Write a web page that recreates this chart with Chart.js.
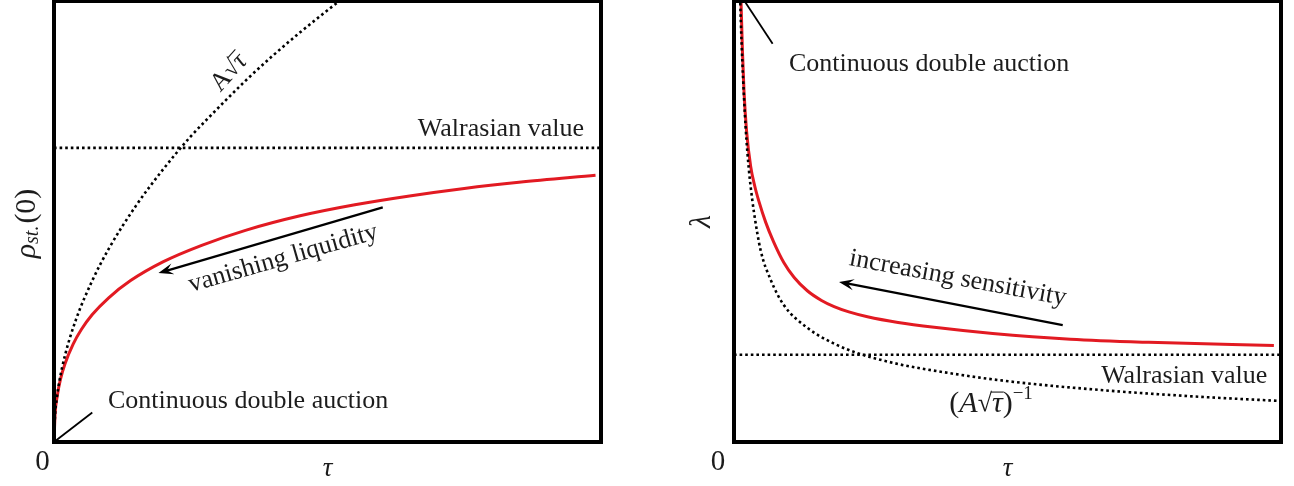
<!DOCTYPE html>
<html><head><meta charset="utf-8">
<script src="https://cdn.jsdelivr.net/npm/chart.js@4.4.1/dist/chart.umd.min.js"></script>
<style>
html,body{margin:0;padding:0;background:#fff;width:1294px;height:486px;overflow:hidden}
.panel{position:absolute;top:0;width:647px;height:486px}
</style></head><body>
<div class="panel" style="left:0"><canvas id="c1" width="647" height="486"></canvas></div>
<div class="panel" style="left:647px"><canvas id="c2" width="647" height="486"></canvas></div>
<script>
// ---------- data ----------
// Left panel: rho_st.(0) vs tau
const leftTauRed  = [0, 0.002, 0.006, 0.012, 0.02, 0.035, 0.05, 0.07, 0.1, 0.14, 0.2, 0.27, 0.35, 0.45, 0.55, 0.65, 0.75, 0.85, 0.99];
const leftRhoRed  = [0, 0.063, 0.105, 0.143, 0.177, 0.222, 0.255, 0.289, 0.327, 0.366, 0.409, 0.446, 0.48, 0.513, 0.538, 0.558, 0.575, 0.589, 0.605];
const leftTauSqrt = [0, 0.002, 0.005, 0.01, 0.02, 0.04, 0.07, 0.1, 0.15, 0.2, 0.25, 0.28, 0.35, 0.4, 0.45, 0.5, 0.53];
const leftRhoSqrt = [0, 0.062, 0.098, 0.139, 0.196, 0.277, 0.366, 0.438, 0.536, 0.619, 0.693, 0.732, 0.819, 0.876, 0.929, 0.979, 1.008];
const leftWalrasian = 0.667;

// Right panel: lambda vs tau
const rightTauRed    = [0.0105, 0.0128, 0.0155, 0.0183, 0.023, 0.0305, 0.038, 0.0457, 0.058, 0.072, 0.091, 0.11, 0.134, 0.16, 0.183, 0.21, 0.244, 0.3, 0.366, 0.473, 0.615, 0.758, 0.987];
const rightLambdaRed = [1.12, 1.0, 0.885, 0.795, 0.705, 0.625, 0.58, 0.545, 0.498, 0.455, 0.407, 0.373, 0.343, 0.321, 0.307, 0.295, 0.284, 0.271, 0.26, 0.246, 0.233, 0.226, 0.219];
const rightTauInv    = [0.009, 0.0105, 0.0125, 0.0152, 0.0213, 0.0274, 0.0335, 0.0366, 0.0488, 0.067, 0.0914, 0.134, 0.183, 0.232, 0.303, 0.341, 0.486, 0.669, 0.852, 1.0];
const rightLambdaInv = [1.11, 1.037, 0.953, 0.864, 0.713, 0.615, 0.548, 0.52, 0.434, 0.368, 0.31, 0.259, 0.223, 0.199, 0.176, 0.167, 0.14, 0.118, 0.1025, 0.093];
const rightWalrasian = 0.198;

const axisRange = [0, 1];

// ---------- helpers ----------
const RED = 'rgb(226,26,34)';
const TXT = '#1c1c1c';
const SERIF = '"Liberation Serif", "DejaVu Serif", serif';
const pts = (xs, ys) => xs.map((x, i) => ({x, y: ys[i]}));
const hline = v => [{x: axisRange[0], y: v}, {x: axisRange[1], y: v}];

function drawRich(ctx, segs, x, y, rot, align) {
  ctx.save();
  ctx.translate(x, y);
  ctx.rotate((rot || 0) * Math.PI / 180);
  ctx.fillStyle = TXT; ctx.strokeStyle = TXT;
  ctx.textBaseline = 'middle'; ctx.textAlign = 'left';
  let total = 0;
  segs.forEach(s => { ctx.font = s.font; s.w = ctx.measureText(s.t).width; total += s.w + (s.gap || 0); });
  let cx = align === 'left' ? 0 : -total / 2;
  segs.forEach(s => {
    ctx.font = s.font;
    ctx.fillText(s.t, cx, s.dy || 0);
    if (s.over) {
      ctx.lineWidth = 1.1;
      ctx.beginPath(); ctx.moveTo(cx - 1, s.over); ctx.lineTo(cx + s.w + 1, s.over); ctx.stroke();
    }
    cx += s.w + (s.gap || 0);
  });
  ctx.restore();
}

function arrow(ctx, x1, y1, x2, y2) {
  const a = Math.atan2(y2 - y1, x2 - x1);
  const L = 15, W = 5.5;
  ctx.save();
  ctx.strokeStyle = '#000'; ctx.fillStyle = '#000'; ctx.lineWidth = 2.2;
  ctx.beginPath(); ctx.moveTo(x1, y1);
  ctx.lineTo(x2 - Math.cos(a) * 8, y2 - Math.sin(a) * 8); ctx.stroke();
  ctx.translate(x2, y2); ctx.rotate(a);
  ctx.beginPath();
  ctx.moveTo(0, 0); ctx.lineTo(-L, -W); ctx.lineTo(-L * 0.6, 0); ctx.lineTo(-L, W); ctx.closePath();
  ctx.fill();
  ctx.restore();
}

function line(ctx, x1, y1, x2, y2, w) {
  ctx.save(); ctx.strokeStyle = '#000'; ctx.lineWidth = w || 1.8;
  ctx.beginPath(); ctx.moveTo(x1, y1); ctx.lineTo(x2, y2); ctx.stroke(); ctx.restore();
}

function makePlugin(drawFn) {
  return {
    id: 'annot',
    afterDatasetsDraw(chart) {
      const ctx = chart.ctx, a = chart.chartArea;
      const X = v => chart.scales.x.getPixelForValue(v);
      const Y = v => chart.scales.y.getPixelForValue(v);
      ctx.save();
      ctx.strokeStyle = '#000'; ctx.lineWidth = 4;
      ctx.strokeRect(a.left, a.top, a.right - a.left, a.bottom - a.top);
      ctx.restore();
      drawFn(ctx, a, X, Y);
    }
  };
}

function baseOptions(padding) {
  return {
    responsive: false, animation: false, devicePixelRatio: 1,
    layout: {padding},
    plugins: {legend: {display: false}, tooltip: {enabled: false}},
    elements: {point: {radius: 0}},
    scales: {
      x: {type: 'linear', min: axisRange[0], max: axisRange[1], display: false},
      y: {type: 'linear', min: axisRange[0], max: axisRange[1], display: false}
    }
  };
}
const dotted = {borderColor: '#000', borderWidth: 2.6, borderDash: [2.6, 3], fill: false, clip: 0, cubicInterpolationMode: 'monotone'};
const redLine = {borderColor: RED, borderWidth: 3, fill: false, clip: 0, cubicInterpolationMode: 'monotone'};

const F = (s, it) => (it ? 'italic ' : '') + s + 'px ' + SERIF;

// ---------- left chart ----------
new Chart(document.getElementById('c1'), {
  type: 'line',
  data: {datasets: [
    Object.assign({data: hline(leftWalrasian)}, dotted),
    Object.assign({data: pts(leftTauSqrt, leftRhoSqrt)}, dotted),
    Object.assign({data: pts(leftTauRed, leftRhoRed)}, redLine)
  ]},
  options: baseOptions({left: 54, right: 46, top: 1, bottom: 44}),
  plugins: [makePlugin((ctx, a, X, Y) => {
    drawRich(ctx, [{t: 'Walrasian value', font: F(26)}], X(0.817), Y(0.710), 0);
    drawRich(ctx, [{t: 'A', font: F(26)}, {t: '√', font: F(24)}, {t: 'τ', font: F(26, true), over: -11}], X(0.32), Y(0.837), -48);
    drawRich(ctx, [{t: 'Continuous double auction', font: F(26)}], X(0.0987), Y(0.093), 0, 'left');
    line(ctx, X(0), Y(0), X(0.07), Y(0.067));
    arrow(ctx, X(0.601), Y(0.532), X(0.191), Y(0.383));
    drawRich(ctx, [{t: 'vanishing liquidity', font: F(26)}], X(0.419), Y(0.416), -16);
    // axis labels
    drawRich(ctx, [{t: '0', font: F(29)}], a.left - 11.5, a.bottom + 20, 0);
    drawRich(ctx, [{t: 'τ', font: F(27, true)}], (a.left + a.right) / 2, a.bottom + 27, 0);
    drawRich(ctx, [{t: 'ρ', font: F(30, true)}, {t: 'st.', font: F(20, true), dy: 6, gap: 2}, {t: '(0)', font: F(30)}], a.left - 27, (a.top + a.bottom) / 2 + 2, -90);
  })]
});

// ---------- right chart ----------
new Chart(document.getElementById('c2'), {
  type: 'line',
  data: {datasets: [
    Object.assign({data: hline(rightWalrasian)}, dotted),
    Object.assign({data: pts(rightTauInv, rightLambdaInv)}, dotted),
    Object.assign({data: pts(rightTauRed, rightLambdaRed)}, redLine)
  ]},
  options: baseOptions({left: 87, right: 13, top: 1, bottom: 44}),
  plugins: [makePlugin((ctx, a, X, Y) => {
    drawRich(ctx, [{t: 'Continuous double auction', font: F(26)}], X(0.1005), Y(0.857), 0, 'left');
    line(ctx, X(0.0192), Y(1.0), X(0.0706), Y(0.903));
    arrow(ctx, X(0.601), Y(0.265), X(0.192), Y(0.363));
    drawRich(ctx, [{t: 'increasing sensitivity', font: F(26)}], X(0.409), Y(0.371), 10.5);
    drawRich(ctx, [{t: 'Walrasian value', font: F(26)}], X(0.823), Y(0.149), 0);
    drawRich(ctx, [{t: '(', font: F(30)}, {t: 'A', font: F(30, true)}, {t: '√', font: F(26)}, {t: 'τ', font: F(30, true), over: -12},
                   {t: ')', font: F(30)}, {t: '−1', font: F(19), dy: -10}], X(0.470), Y(0.086), 0);
    drawRich(ctx, [{t: '0', font: F(29)}], a.left - 16, a.bottom + 20, 0);
    drawRich(ctx, [{t: 'τ', font: F(27, true)}], (a.left + a.right) / 2, a.bottom + 27, 0);
    drawRich(ctx, [{t: 'λ', font: F(30, true)}], a.left - 32, (a.top + a.bottom) / 2, -90);
  })]
});
</script>
</body></html>
